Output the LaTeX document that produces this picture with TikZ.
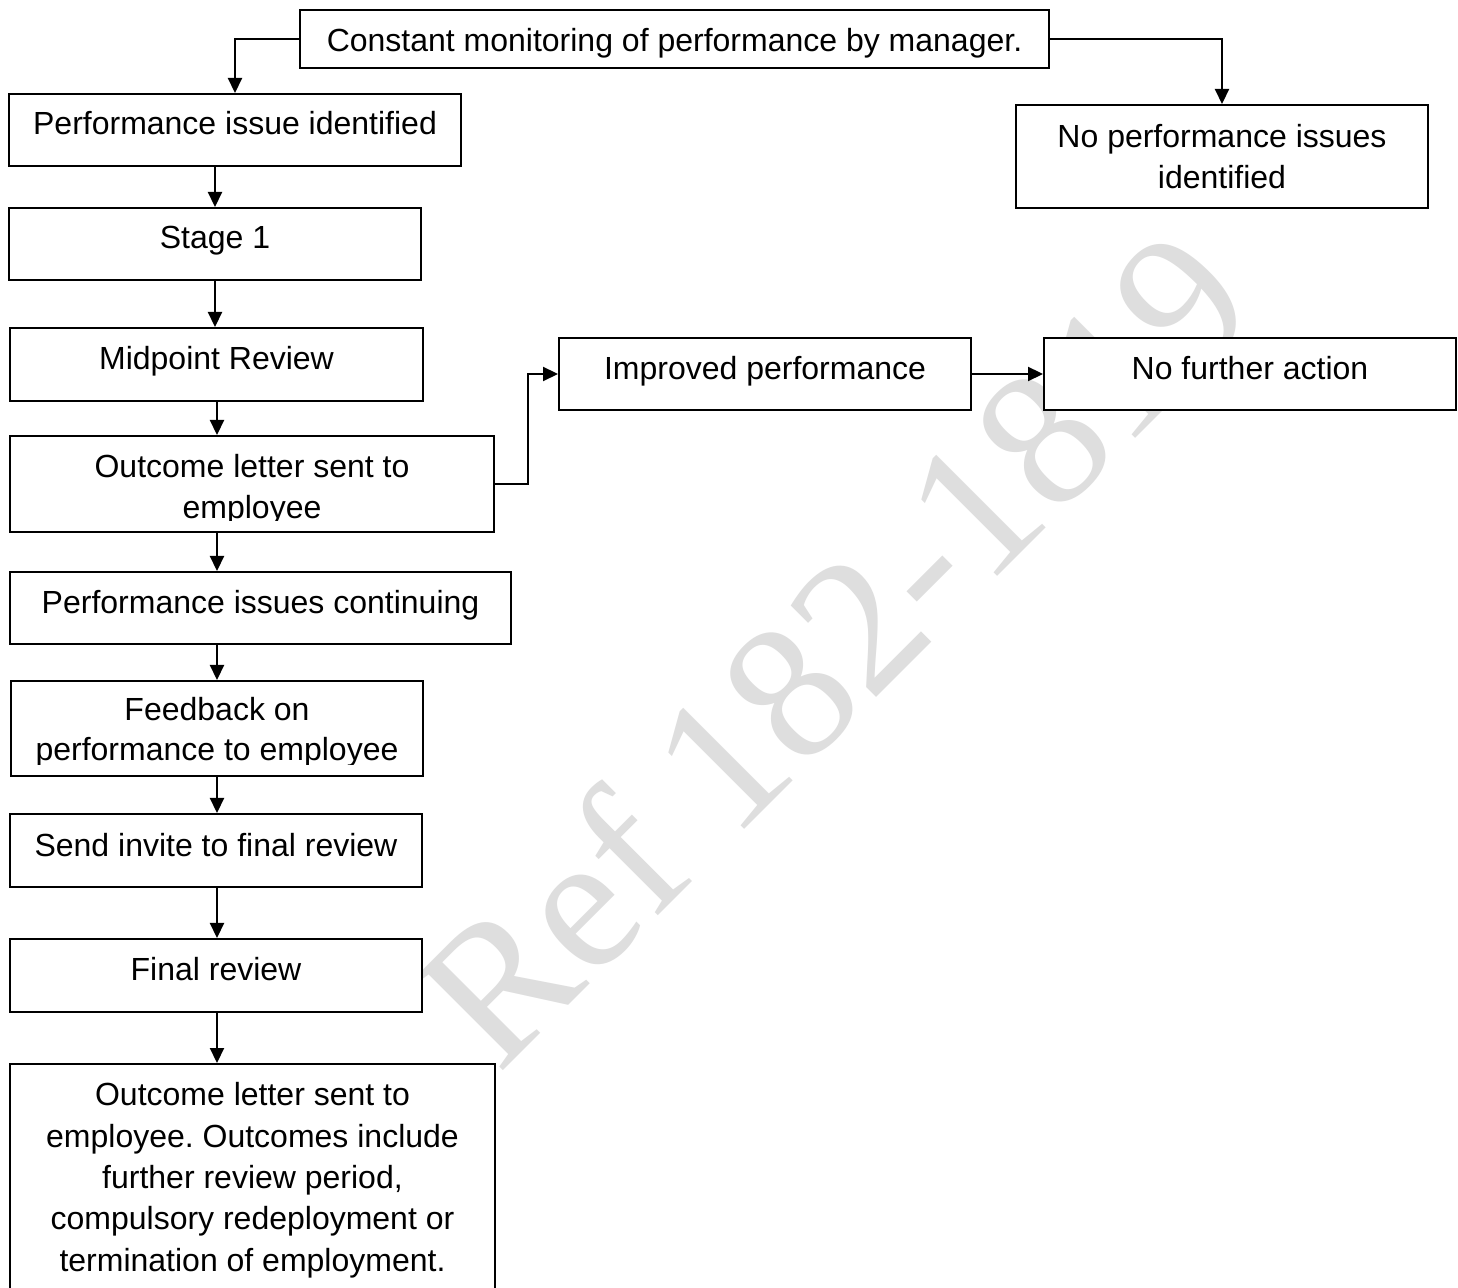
\documentclass[tikz,border=0pt]{standalone}
\usepackage{fontspec}
\setmainfont{Liberation Sans}
\newfontfamily\wmfont{Liberation Serif}
\usetikzlibrary{fit,arrows.meta}
\definecolor{wmgray}{RGB}{222,222,222}
\frenchspacing
\begin{document}
\begin{tikzpicture}[x=0.5pt,y=-0.5pt,
  box/.style={draw=black, line width=1pt, fill=white, inner sep=0pt},
  txt/.style={anchor=base, inner sep=0pt, yshift=-1pt, font=\fontsize{16pt}{20.5pt}\selectfont},
  arr/.style={line width=1.1pt, -{Triangle[length=7.5pt,width=7pt]}},
  wmark/.style={rotate=45, anchor=base, inner sep=0pt, text=wmgray, font=\wmfont\fontsize{97.5pt}{100pt}\selectfont}
  ]
\fill[white] (0,0) rectangle (1458,1288);
\clip (0,0) rectangle (1458,1288);
% watermark
\node[wmark] (wm) at (880,694) {Ref 182-1819};
% boxes
\node[box, fit={(300,10) (1049,68)}] (top) {};
\node[box, fit={(9,94) (461,166)}] (pi) {};
\node[box, fit={(1016,105) (1428,208)}] (nop) {};
\node[box, fit={(9,208) (421,280)}] (st1) {};
\node[box, fit={(10,328) (423,401)}] (mid) {};
\node[box, fit={(10,436) (494,532)}] (out) {};
\node[box, fit={(10,572) (511,644)}] (cont) {};
\node[box, fit={(11,681) (423,776)}] (fb) {};
\node[box, fit={(10,814) (422,887)}] (inv) {};
\node[box, fit={(10,939) (422,1012)}] (fin) {};
\node[box, fit={(10,1064) (495,1320)}] (res) {};
\node[box, fit={(559,338) (971,410)}] (imp) {};
\node[box, fit={(1044,338) (1456,410)}] (nfa) {};
% texts
\node[txt] (top-t) at ([yshift=-20.5pt]top.north) {Constant monitoring of performance by manager.};
\node[txt] (pi-t) at ([yshift=-20pt]pi.north) {Performance issue identified};
\node[txt] (nop-t1) at ([yshift=-21pt]nop.north) {No performance issues};
\node[txt] (nop-t2) at ([yshift=-41.5pt]nop.north) {identified};
\node[txt] (st1-t) at ([yshift=-20pt]st1.north) {Stage 1};
\node[txt] (mid-t) at ([yshift=-20.5pt]mid.north) {Midpoint Review};
\node[txt] (out-t1) at ([yshift=-20.5pt]out.north) {Outcome letter sent to};
\begin{scope}
\clip (10,436) rectangle (494,521);
\node[txt] (out-t2) at ([yshift=-41pt]out.north) {employee};
\end{scope}
\node[txt] (cont-t) at ([yshift=-20.5pt]cont.north) {Performance issues continuing};
\node[txt] (fb-t1) at ([yshift=-19.5pt]fb.north) {Feedback on};
\begin{scope}
\clip (11,681) rectangle (423,765);
\node[txt] (fb-t2) at ([yshift=-39.5pt]fb.north) {performance to employee};
\end{scope}
\node[txt] (inv-t) at ([yshift=-21pt]inv.north) {Send invite to final review};
\node[txt] (fin-t) at ([yshift=-20pt]fin.north) {Final review};
\node[txt] (res-t1) at ([yshift=-20pt]res.north) {Outcome letter sent to};
\node[txt] (res-t2) at ([yshift=-41pt]res.north) {employee. Outcomes include};
\node[txt] (res-t3) at ([yshift=-61.5pt]res.north) {further review period,};
\node[txt] (res-t4) at ([yshift=-82pt]res.north) {compulsory redeployment or};
\node[txt] (res-t5) at ([yshift=-103pt]res.north) {termination of employment.};
\node[txt] (imp-t) at ([yshift=-20.5pt]imp.north) {Improved performance};
\node[txt] (nfa-t) at ([yshift=-20.5pt]nfa.north) {No further action};
% connectors
\coordinate (cx) at (217,0);
\draw[arr] (top.west) -| (pi.north);
\draw[arr] (top.east) -| (nop.north);
\draw[arr] (pi.south -| st1.north) -- (st1.north);
\draw[arr] (st1.south) -- (st1.south |- mid.north);
\draw[arr] (mid.south -| cx) -- (out.north -| cx);
\draw[arr] (out.south -| cx) -- (cont.north -| cx);
\draw[arr] (cont.south -| cx) -- (fb.north -| cx);
\draw[arr] (fb.south -| cx) -- (inv.north -| cx);
\draw[arr] (inv.south -| cx) -- (fin.north -| cx);
\draw[arr] (fin.south -| cx) -- (res.north -| cx);
\draw[arr] (out.east) -- ++(33,0) |- (imp.west);
\draw[arr] (imp.east) -- (nfa.west);
\end{tikzpicture}
\end{document}
